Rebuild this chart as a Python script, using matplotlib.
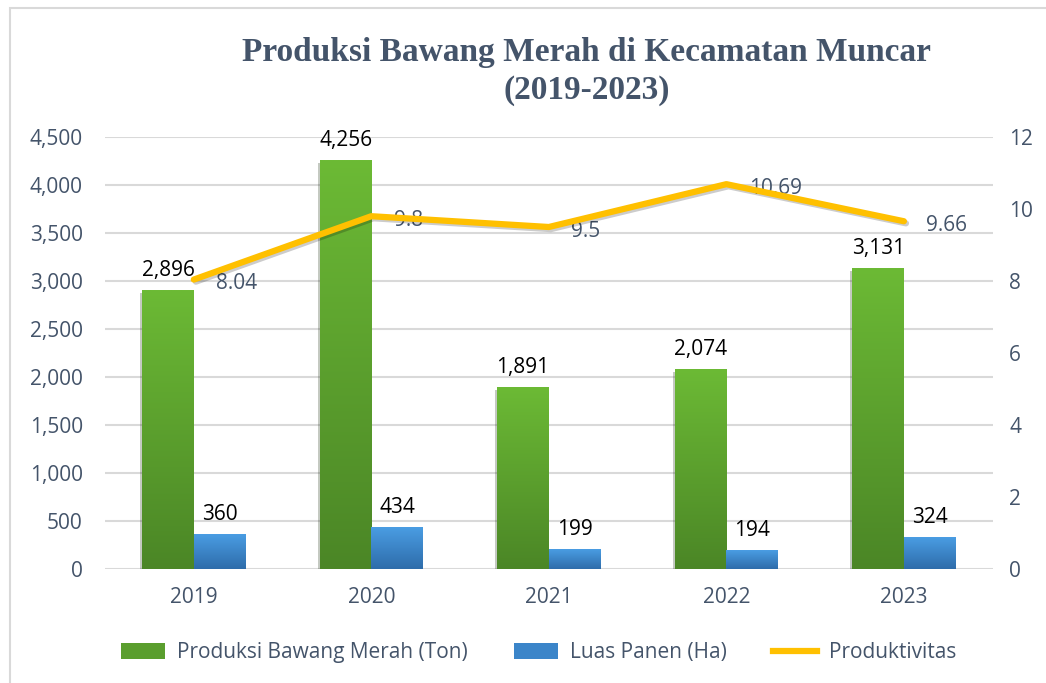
import numpy as np
import matplotlib
matplotlib.use("Agg")
from matplotlib import pyplot as plt
from matplotlib.colors import LinearSegmentedColormap
from matplotlib.ticker import FuncFormatter, MultipleLocator
from matplotlib.patches import Rectangle, Patch
from matplotlib.lines import Line2D
import matplotlib.patheffects as pe

# data
years = ["2019", "2020", "2021", "2022", "2023"]
produksi = [2896, 4256, 1891, 2074, 3131]
luas_panen = [360, 434, 199, 194, 324]
produktivitas = [8.04, 9.8, 9.5, 10.69, 9.66]

text_col = "#44546A"
green_top, green_bot = "#6CBA35", "#4B8626"
blue_top, blue_bot = "#4A9DE3", "#2E6CAA"
line_col = "#FFC000"

plt.rcParams["font.family"] = ["Open Sans", "DejaVu Sans"]

fig = plt.figure(figsize=(10.46, 6.83), dpi=100)
ax = fig.add_axes([0.1004, 0.1669, 0.8486, 0.6325])
ax2 = ax.twinx()

# light chart border (only top/left visible in the reference)
fig.patches.append(Rectangle((10 / 1046, -0.05), 1.1, 1 - 8 / 683 + 0.05,
                             transform=fig.transFigure, fill=False,
                             edgecolor="#D9D9D9", linewidth=1.5))

x = np.arange(len(years))
w = 0.29

bars_g = ax.bar(x - w / 2, produksi, w, color=green_bot, zorder=2)
bars_b = ax.bar(x + w / 2, luas_panen, w, color=blue_bot, zorder=2)

# vertical gradients on the bars
grad = np.linspace(0, 1, 256).reshape(-1, 1)
cmap_g = LinearSegmentedColormap.from_list("g", [green_bot, green_top])
cmap_b = LinearSegmentedColormap.from_list("b", [blue_bot, blue_top])
for bars, cm in [(bars_g, cmap_g), (bars_b, cmap_b)]:
    for b in bars:
        x0 = b.get_x()
        ax.imshow(grad, extent=[x0, x0 + b.get_width(), 0, b.get_height()],
                  origin="lower", aspect="auto", cmap=cm, zorder=3)
        b.set_path_effects([pe.SimplePatchShadow(offset=(-1.5, -1.5), alpha=0.25), pe.Normal()])

for bars in [bars_g, bars_b]:
    for b in bars:
        ax.annotate(f"{int(b.get_height()):,}",
                    (b.get_x() + b.get_width() / 2, b.get_height()),
                    xytext=(0, 7), textcoords="offset points",
                    ha="center", va="bottom", fontsize=15, color="black", zorder=5)

ax.set_xlim(-0.5, len(years) - 0.5)
ax.set_ylim(0, 4500)
ax.yaxis.set_major_locator(MultipleLocator(500))
ax.yaxis.set_major_formatter(FuncFormatter(lambda v, p: f"{v:,.0f}"))
ax.set_xticks(x)
ax.set_xticklabels(years)
ax.grid(axis="y", color="#D9D9D9", linewidth=1.5, zorder=0)
ax.set_axisbelow(True)
ax.tick_params(axis="y", length=0, pad=16, labelsize=15, labelcolor=text_col)
ax.tick_params(axis="x", length=0, pad=13, labelsize=15, labelcolor=text_col)

ax2.plot(x, produktivitas, color=line_col, linewidth=4.5, solid_capstyle="round",
         zorder=4, path_effects=[pe.SimpleLineShadow(offset=(1.5, -1.5), alpha=0.2), pe.Normal()])
for xi, v in zip(x, produktivitas):
    ax2.annotate(f"{v:g}", (xi, v), xytext=(16, -3), textcoords="offset points",
                 ha="left", va="center", fontsize=15, color=text_col)
ax2.set_ylim(0, 12)
ax2.yaxis.set_major_locator(MultipleLocator(2))
ax2.tick_params(axis="y", length=0, pad=12, labelsize=15, labelcolor=text_col)

for a in [ax, ax2]:
    for s in a.spines.values():
        s.set_visible(False)

fig.text(0.561, 1 - 37 / 683, "Produksi Bawang Merah di Kecamatan Muncar\n(2019-2023)",
         ha="center", va="top", fontsize=24, fontweight="bold", color=text_col,
         family="Liberation Serif", linespacing=1.27)

handles = [Patch(facecolor="#5A9E2E", edgecolor="none"),
           Patch(facecolor="#3B85C9", edgecolor="none"),
           Line2D([0], [0], color=line_col, linewidth=4.5)]
labels = ["Produksi Bawang Merah (Ton)", "Luas Panen (Ha)", "Produktivitas"]
fig.legend(handles, labels, loc="center", bbox_to_anchor=(0.515, 0.044), ncol=3,
           frameon=False, fontsize=15, labelcolor=text_col, handlelength=2.1,
           handleheight=0.8, handletextpad=0.6, columnspacing=2.2)

fig.savefig("out.png", dpi=100)
